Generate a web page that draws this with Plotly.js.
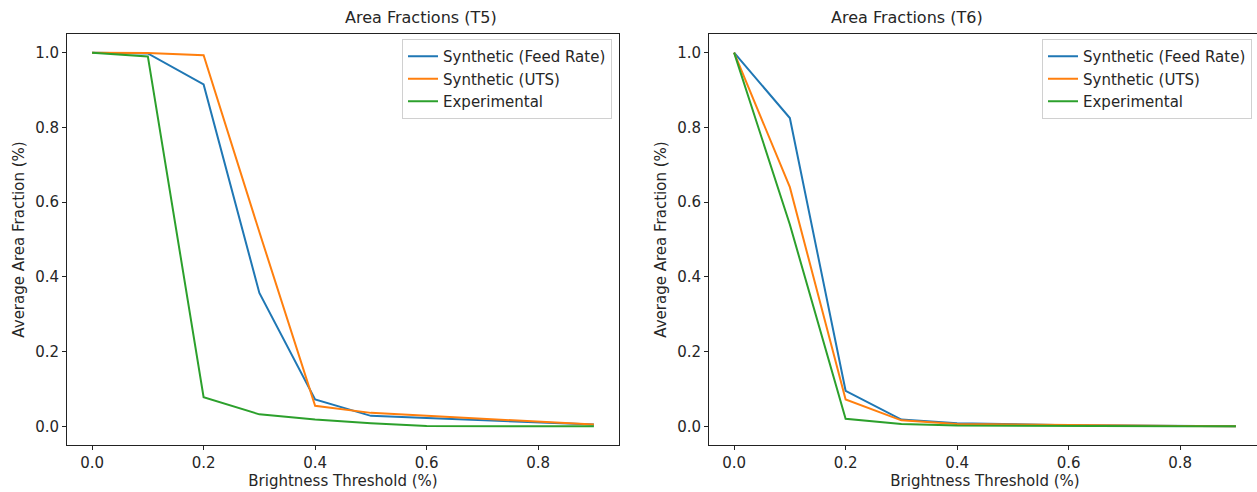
<!DOCTYPE html>
<html>
<head>
<meta charset="utf-8">
<script src="https://cdn.plot.ly/plotly-3.0.1.min.js"></script>
<style>
html,body{margin:0;padding:0;overflow:hidden;background:#fff;width:1257px;height:492px;}
#chart{width:1265px;height:492px;}
</style>
</head>
<body>
<div id="chart"></div>
<script>
// Brightness thresholds
const thresholds = [0.0, 0.1, 0.2, 0.3, 0.4, 0.5, 0.6, 0.7, 0.8, 0.9];

// T5 panel
const t5FeedRate = [1.0, 0.998, 0.915, 0.357, 0.072, 0.028, 0.022, 0.017, 0.012, 0.005];
const t5UTS      = [1.0, 0.999, 0.993, 0.52, 0.055, 0.036, 0.028, 0.020, 0.013, 0.005];
const t5Exp      = [1.0, 0.990, 0.078, 0.032, 0.018, 0.008, 0.001, 0.000, 0.000, 0.000];

// T6 panel
const t6FeedRate = [1.0, 0.825, 0.095, 0.018, 0.008, 0.005, 0.003, 0.002, 0.001, 0.000];
const t6UTS      = [1.0, 0.640, 0.072, 0.016, 0.006, 0.004, 0.003, 0.002, 0.001, 0.000];
const t6Exp      = [1.0, 0.540, 0.020, 0.006, 0.002, 0.001, 0.000, 0.000, 0.000, 0.000];

const seriesNames = ["Synthetic (Feed Rate)", "Synthetic (UTS)", "Experimental"];
const panelTitles = ["Area Fractions (T5)", "Area Fractions (T6)"];
const xTitle = "Brightness Threshold (%)";
const yTitle = "Average Area Fraction (%)";
const tickVals = [0.0, 0.2, 0.4, 0.6, 0.8];
const yTickVals = [0.0, 0.2, 0.4, 0.6, 0.8, 1.0];

const colors = ["#1f77b4", "#ff7f0e", "#2ca02c"];
const font = "DejaVu Sans, Liberation Sans, sans-serif";
const txt = "#262626";

function mk(y, i, xa, ya, leg) {
  return {x: thresholds, y: y, name: seriesNames[i], type: "scatter", mode: "lines",
    line: {color: colors[i], width: 2}, xaxis: xa, yaxis: ya, legend: leg};
}

const data = [
  mk(t5FeedRate, 0, "x", "y", "legend"),
  mk(t5UTS, 1, "x", "y", "legend"),
  mk(t5Exp, 2, "x", "y", "legend"),
  mk(t6FeedRate, 0, "x2", "y2", "legend2"),
  mk(t6UTS, 1, "x2", "y2", "legend2"),
  mk(t6Exp, 2, "x2", "y2", "legend2")
];

const W = 1265, H = 492, ml = 67, mr = 4, mt = 34, mb = 47;
const pw = W - ml - mr, ph = H - mt - mb;
const d1 = [0, (619 - ml) / pw];
const d2 = [(709 - ml) / pw, 1];

function xax(dom, anchor) {
  return {domain: dom, anchor: anchor, range: [-0.045, 0.945], tickvals: tickVals, tickformat: ".1f",
    showline: true, mirror: true, linecolor: "#222", linewidth: 1, ticks: "outside", ticklen: 4,
    tickwidth: 1, tickcolor: "#222", showgrid: false, zeroline: false,
    tickfont: {family: font, size: 15, color: txt},
    title: {text: xTitle, font: {family: font, size: 15, color: txt}, standoff: 2}};
}
function yax(anchor) {
  return {anchor: anchor, domain: [0, 1], range: [-0.05, 1.05], tickvals: yTickVals, tickformat: ".1f",
    showline: true, mirror: true, linecolor: "#222", linewidth: 1, ticks: "outside", ticklen: 4,
    tickwidth: 1, tickcolor: "#222", showgrid: false, zeroline: false,
    tickfont: {family: font, size: 15, color: txt},
    title: {text: yTitle, font: {family: font, size: 15, color: txt}, standoff: 6}};
}
function leg(xr) {
  return {x: xr, xanchor: "right", y: 1 - 5 / ph, yanchor: "top",
    bgcolor: "rgba(255,255,255,0.85)", bordercolor: "#d0d0d0", borderwidth: 1,
    font: {family: font, size: 15, color: txt}, tracegroupgap: 0, itemwidth: 30};
}

const layout = {
  width: W, height: H,
  margin: {l: ml, r: mr, t: mt, b: mb},
  paper_bgcolor: "#fff", plot_bgcolor: "#fff",
  font: {family: font, color: txt},
  showlegend: true,
  xaxis: xax(d1, "y"),
  yaxis: yax("x"),
  xaxis2: xax(d2, "y2"),
  yaxis2: yax("x2"),
  legend: leg((612 - ml) / pw),
  legend2: leg((1252 - ml) / pw),
  annotations: [
    {text: panelTitles[0], xref: "paper", yref: "paper", x: (d1[0] + d1[1]) / 2, y: 1 + 5 / ph,
      yanchor: "bottom", showarrow: false, font: {family: font, size: 16, color: txt}},
    {text: panelTitles[1], xref: "paper", yref: "paper", x: (d2[0] + d2[1]) / 2, y: 1 + 5 / ph,
      yanchor: "bottom", showarrow: false, font: {family: font, size: 16, color: txt}}
  ]
};

Plotly.newPlot("chart", data, layout, {staticPlot: true, displayModeBar: false});
</script>
</body>
</html>
